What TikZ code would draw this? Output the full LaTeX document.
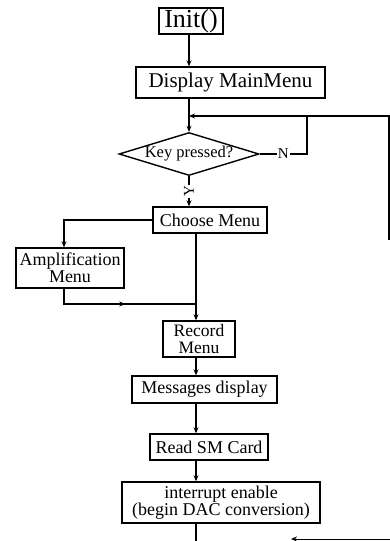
\documentclass[tikz,border=0pt]{standalone}
\usepackage{fontspec}
\setmainfont{Liberation Serif}
\usepackage{tikz}
\usetikzlibrary{shapes.geometric, arrows.meta, decorations.markings}

\begin{document}
\begin{tikzpicture}[
    x=1pt, y=-1pt,
    line width=1.4pt,
    procbox/.style={rectangle, draw=black, line width=1.4pt, inner sep=1pt,
                    align=center, font=\fontsize{18}{17}\selectfont},
    decision/.style={diamond, draw=black, line width=1.4pt, inner sep=0pt,
                     aspect=3.2, font=\fontsize{16.5}{18}\selectfont},
    flowlabel/.style={fill=white, inner sep=1pt, font=\fontsize{15}{16}\selectfont},
    arr/.style={-{Stealth[length=6pt, width=5pt]}},
    midarr/.style={postaction=decorate, decoration={markings,
                   mark=at position 0.52 with {\arrow{Stealth[length=6pt, width=5pt]}}}}
]
\useasboundingbox (0,0) rectangle (390,541);

% boxes
\node[procbox, minimum width=64pt, minimum height=26pt,
      font=\fontsize{26}{28}\selectfont] (init) at (191,21) {Init()};
\node[procbox, minimum width=189pt, minimum height=31pt,
      font=\fontsize{21}{23}\selectfont] (mainmenu) at (230.5,82.5) {Display MainMenu};
\node[decision, minimum width=140pt, minimum height=43pt] (key) at (189,154) {Key pressed?};
\node[procbox, minimum width=114pt, minimum height=26pt] (choose) at (210,220) {Choose Menu};
\node[procbox, minimum width=108pt, minimum height=40pt] (ampl) at (70,268) {Amplification\\Menu};
\node[procbox, minimum width=72pt, minimum height=36pt,
      font=\fontsize{17.5}{16.5}\selectfont] (record) at (199,339) {Record\\Menu};
\node[procbox, minimum width=145pt, minimum height=27pt] (msgs) at (204.5,389.5) {Messages display};
\node[procbox, minimum width=118pt, minimum height=26pt] (readsm) at (209,447) {Read SM Card};
\node[procbox, minimum width=198pt, minimum height=41pt] (irq) at (221,502.5)
    {interrupt enable\\(begin DAC conversion)};

% free ends
\coordinate (looptop) at (389,116);
\coordinate (loopbot) at (389,240);
\coordinate (nturn) at (307,116);
\coordinate (join) at (196,304);
\coordinate (bot) at (198,541);
\coordinate (outR) at (390,539);
\coordinate (outL) at (291,539);

% main line
\draw[arr] (init.south -| key.north) -- (mainmenu.north -| key.north);
\draw[arr] (mainmenu.south -| key.north) -- (key.north);
\draw[arr] (key.south) -- (key.south |- choose.north)
    node[flowlabel, rotate=90, pos=0.5] {Y};
\draw (key.east) -- (key.east -| nturn) node[flowlabel, pos=0.5] {N} -- (nturn);
\draw[arr] (loopbot) -- (looptop) -- (key.north |- looptop);
\draw[arr] (choose.west) -| ([xshift=-6pt]ampl.north);
\draw[midarr] ([xshift=-6pt]ampl.south) |- (join);
\draw[arr] (choose.south -| join) -- (record.north -| join);
\draw[arr] (record.south -| join) -- (msgs.north -| join);
\draw[arr] (msgs.south -| join) -- (readsm.north -| join);
\draw[arr] (readsm.south -| join) -- (irq.north -| join);
\draw (irq.south -| join) -- (bot -| join);
\draw[arr, line width=1pt] (outR) -- (outL);
\end{tikzpicture}
\end{document}
